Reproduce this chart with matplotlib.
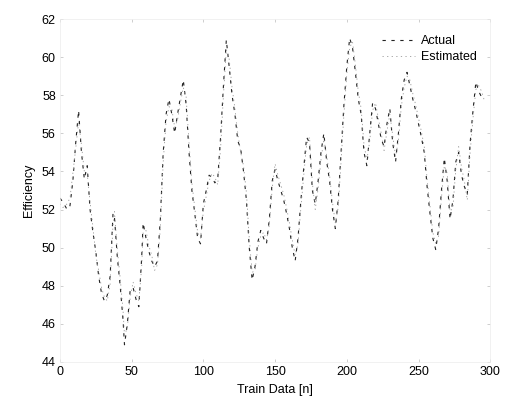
import matplotlib
matplotlib.use('Agg')
import matplotlib.pyplot as plt

### Data

n = [0, 2, 5, 7, 9, 11, 13, 15, 17, 19, 21, 23, 25, 27, 29, 31, 33, 35, 37, 38,
     40, 42, 44, 45, 47, 49, 51, 53, 55, 57, 58, 60, 62, 64, 66, 68, 70, 72, 74, 76,
     78, 80, 82, 84, 86, 88, 90, 92, 94, 96, 98, 100, 102, 104, 106, 108, 110, 112, 114, 116,
     118, 120, 122, 124, 126, 128, 130, 132, 134, 136, 138, 140, 142, 144, 146, 148, 150, 152, 154, 156,
     158, 160, 162, 164, 166, 168, 170, 172, 174, 176, 178, 180, 182, 184, 186, 188, 190, 192, 194, 196,
     198, 200, 202, 204, 206, 208, 210, 212, 214, 216, 218, 220, 222, 224, 226, 228, 230, 232, 234, 236,
     238, 240, 242, 244, 246, 248, 250, 252, 254, 256, 258, 260, 262, 264, 266, 268, 270, 272, 274, 276,
     278, 280, 282, 284, 286, 288, 290, 292, 294, 296]

actual = [52.6, 52.4, 52.0, 52.2, 53.5, 55.5, 57.2, 55.0, 53.6, 54.3, 52.0, 50.8, 49.8, 48.5, 47.6, 47.2, 47.5, 48.5, 51.8, 51.6,
          49.5, 48.0, 46.2, 44.9, 46.0, 47.8, 47.9, 47.3, 46.9, 49.5, 51.3, 50.5, 49.8, 49.3, 49.0, 49.3, 51.5, 55.0, 57.0, 57.8,
          57.0, 56.0, 57.0, 57.9, 58.8, 57.5, 55.0, 53.0, 51.8, 50.5, 50.2, 52.3, 53.0, 53.8, 53.7, 53.4, 53.6, 55.8, 58.5, 60.9,
          59.5, 58.0, 57.0, 55.6, 55.2, 54.0, 52.5, 50.0, 48.3, 49.0, 50.3, 50.9, 50.5, 50.2, 51.5, 53.5, 54.1, 53.5, 53.0, 52.5,
          51.8, 51.0, 50.0, 49.3, 50.5, 52.5, 54.2, 55.8, 55.5, 53.0, 52.3, 53.5, 55.0, 56.0, 54.5, 53.5, 52.0, 51.0, 52.5, 55.0,
          57.5, 59.5, 61.0, 60.5, 59.2, 57.8, 57.0, 55.0, 54.3, 56.0, 57.6, 57.3, 56.5, 55.7, 55.3, 56.5, 57.3, 55.5, 54.5, 56.0,
          57.8, 58.8, 59.2, 58.5, 57.8, 57.2, 56.5, 55.8, 55.0, 53.2, 51.8, 50.5, 49.9, 51.0, 53.0, 54.7, 53.5, 51.5, 52.5, 54.5,
          55.0, 53.8, 53.2, 52.8, 55.5, 57.2, 58.7, 58.2, 57.9, 58.0]

estimated = [52.3, 52.1, 52.3, 52.6, 53.9, 55.2, 56.6, 55.4, 54.0, 53.9, 52.4, 51.1, 49.6, 48.8, 47.9, 47.4, 47.2, 48.1, 51.2, 51.9,
             49.9, 48.4, 46.7, 45.4, 45.8, 47.4, 48.2, 47.6, 47.2, 49.0, 50.8, 50.9, 50.1, 49.6, 48.8, 49.1, 51.0, 54.5, 56.6, 57.4,
             57.3, 56.3, 56.7, 57.6, 58.4, 57.9, 55.5, 53.4, 52.1, 50.8, 50.5, 51.9, 52.7, 53.5, 53.9, 53.7, 53.3, 55.2, 58.0, 60.4,
             59.9, 58.4, 57.3, 56.0, 55.0, 54.3, 52.9, 50.5, 48.7, 48.8, 50.0, 50.6, 50.8, 50.4, 51.2, 53.1, 54.4, 53.8, 53.3, 52.8,
             52.1, 51.3, 50.4, 49.6, 50.2, 52.1, 53.8, 55.4, 55.8, 53.4, 52.0, 53.1, 54.6, 55.7, 54.8, 53.8, 52.4, 51.3, 52.1, 54.5,
             57.0, 59.1, 60.5, 60.8, 59.6, 58.2, 57.3, 55.4, 54.6, 55.6, 57.2, 57.6, 56.8, 56.0, 55.1, 56.1, 57.0, 55.9, 54.8, 55.6,
             57.4, 58.4, 59.0, 58.8, 58.1, 57.5, 56.8, 56.1, 55.3, 53.6, 52.2, 50.8, 50.2, 50.6, 52.6, 54.3, 53.9, 51.9, 52.1, 54.1,
             55.3, 54.2, 53.5, 52.5, 55.0, 56.8, 58.3, 58.5, 58.2, 57.7]

### Set up viewer

fig = plt.figure(figsize=(5.08, 3.96), dpi=100)
ax = fig.add_axes([0.118, 0.086, 0.847, 0.866])

ax.plot(n, actual, color='#222222', lw=0.8, dashes=(3, 5), label='Actual')
ax.plot(n, estimated, color='#999999', lw=0.6, dashes=(1.5, 4), label='Estimated')

### Finalize viewer

ax.set_xlim(0, 300)
ax.set_ylim(44, 62)
ax.set_xticks([0, 50, 100, 150, 200, 250, 300])
ax.set_yticks([44, 46, 48, 50, 52, 54, 56, 58, 60, 62])

for side in ['top', 'right', 'bottom', 'left']:
    ax.spines[side].set_color('#ececec')
    ax.spines[side].set_linewidth(0.5)

font = 'Liberation Sans'
ax.set_xlabel('Train Data [n]', family=font, size=9, labelpad=4)
ax.set_ylabel('Efficiency', family=font, size=9, labelpad=5)
ax.tick_params(direction='in', length=2, width=0.5, color='#bbbbbb',
               labelsize=9, pad=3, top=True, right=True)
for lbl in ax.get_xticklabels() + ax.get_yticklabels():
    lbl.set_family(font)

leg = ax.legend(loc='upper right', bbox_to_anchor=(0.995, 0.985), frameon=False,
                prop={'family': font, 'size': 9}, handlelength=2.6,
                handletextpad=0.5, labelspacing=0.3)

fig.savefig('out.png')
plt.close(fig)
